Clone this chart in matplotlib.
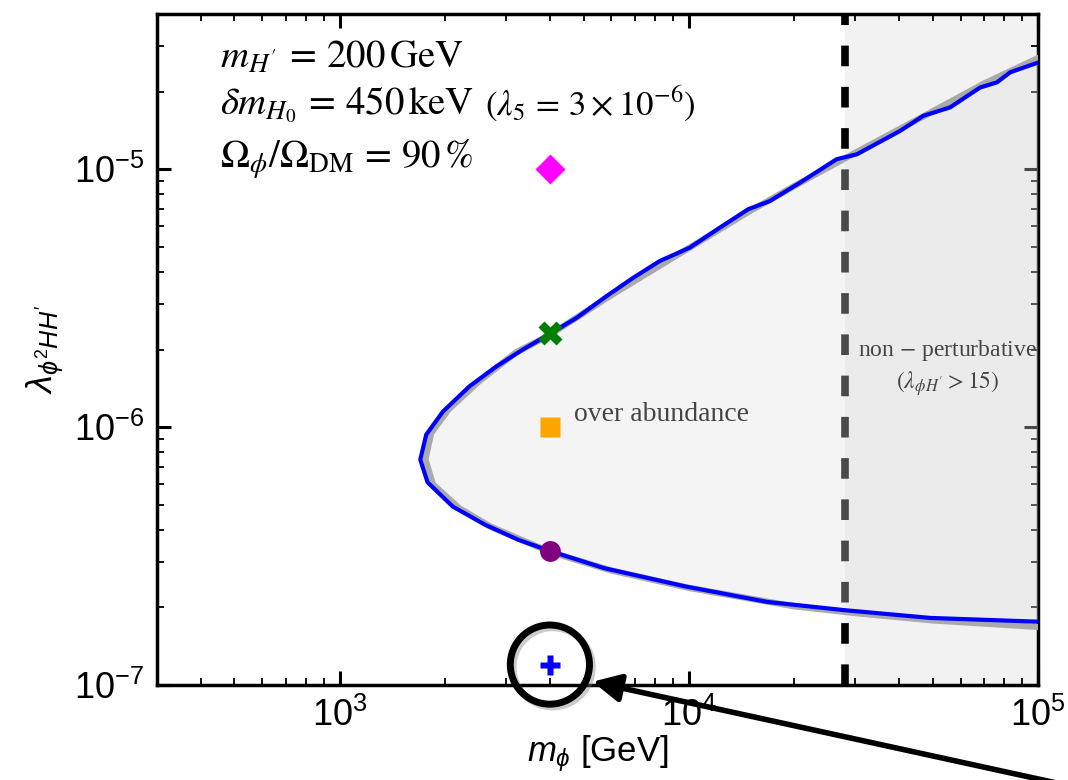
import matplotlib
matplotlib.use("Agg")
import matplotlib.pyplot as plt
import matplotlib.patheffects as pe

# relic-density contour (blue)
upper_m = [1702, 1770, 1977, 2355, 2812, 3350, 4000, 4764, 5808, 6918, 8260, 10070,
           12270, 14790, 17060, 20800, 26490, 30270, 40270, 46880, 55980, 68230,
           76210, 83180, 100000]
upper_lam = [7.48e-7, 9.35e-7, 1.15e-6, 1.44e-6, 1.72e-6, 2.0e-6, 2.30e-6, 2.65e-6,
             3.22e-6, 3.79e-6, 4.41e-6, 4.97e-6, 5.94e-6, 7.00e-6, 7.53e-6, 8.87e-6,
             1.094e-5, 1.143e-5, 1.409e-5, 1.611e-5, 1.738e-5, 2.075e-5, 2.173e-5,
             2.377e-5, 2.594e-5]
lower_m = [1702, 1786, 2109, 2612, 3243, 4000, 5715, 9795, 16750, 27990, 49200, 100000]
lower_lam = [7.48e-7, 6.11e-7, 4.92e-7, 4.18e-7, 3.66e-7, 3.31e-7, 2.84e-7, 2.41e-7,
             2.10e-7, 1.95e-7, 1.82e-7, 1.76e-7]

# smoother gray contour underneath
gray_m = [100000, 70000, 50000, 30000, 20000, 15000, 10000, 6000, 4000, 3200, 2500,
          2050, 1830, 1760, 1850, 2200, 2700, 4000, 6000, 10000, 20000, 30000, 50000,
          100000]
gray_lam = [2.70e-5, 2.15e-5, 1.68e-5, 1.16e-5, 8.6e-6, 6.9e-6, 4.95e-6, 3.25e-6,
            2.28e-6, 1.95e-6, 1.5e-6, 1.17e-6, 9.5e-7, 7.5e-7, 6.0e-7, 4.85e-7,
            4.12e-7, 3.28e-7, 2.78e-7, 2.38e-7, 2.02e-7, 1.9e-7, 1.78e-7, 1.68e-7]

m_pert = 2.8e4  # non-perturbative bound

# benchmark points
bench_m = 4000
bench_lam = {"D": 1e-5, "X": 2.31e-6, "s": 1e-6, "o": 3.3e-7, "P": 1.2e-7}
bench_col = {"D": "magenta", "X": "green", "s": "orange", "o": "purple", "P": "blue"}
bench_ms = {"D": 15, "X": 17, "s": 15, "o": 15, "P": 14}

plt.rcParams["font.family"] = ["Liberation Sans", "DejaVu Sans"]
plt.rcParams["mathtext.fontset"] = "custom"
plt.rcParams["mathtext.rm"] = "Liberation Sans"
plt.rcParams["mathtext.it"] = "Liberation Sans:italic"

fig = plt.figure(figsize=(10.68, 7.8), dpi=100)
ax = fig.add_axes([0.147, 0.1218, 0.825, 0.8602])
ax.set_xscale("log")
ax.set_yscale("log")
ax.set_xlim(300, 1e5)
ax.set_ylim(1e-7, 4e-5)

ax.axvspan(m_pert, 1e5, color="gray", alpha=0.1, lw=0, zorder=1)
ax.axvline(m_pert, color="black", lw=5.5, dashes=(2.7, 2.7), zorder=2)

curve_m = upper_m[::-1] + lower_m[1:]
curve_lam = upper_lam[::-1] + lower_lam[1:]
ax.fill(curve_m, curve_lam, facecolor=(222 / 255, 222 / 255, 222 / 255), alpha=0.33,
        lw=0, zorder=3)
ax.plot(gray_m, gray_lam, color="#aaaaaa", lw=4.5, zorder=4)
ax.plot(curve_m, curve_lam, color="blue", lw=3, zorder=5)

for mk, lam in bench_lam.items():
    ax.plot(bench_m, lam, marker=mk, ms=bench_ms[mk], color=bench_col[mk], mec="none",
            ls="none", zorder=6, clip_on=False)

ax.plot(bench_m, 1.2e-7, marker="o", ms=57, mfc="none", mec="black", mew=5, ls="none",
        zorder=7, clip_on=False,
        path_effects=[pe.SimpleLineShadow(offset=(2, -2), shadow_color="gray", alpha=0.4),
                      pe.Normal()])

ax.annotate("", xy=(5300, 1.03e-7), xycoords="data", xytext=(1.02, -0.013),
            textcoords="figure fraction", annotation_clip=False,
            arrowprops=dict(arrowstyle="-|>", lw=4, color="black", mutation_scale=42,
                            shrinkA=0, shrinkB=0), zorder=8)

serif = dict(family=["Liberation Serif", "DejaVu Serif"], math_fontfamily="stix")
ax.text(0.0715, 0.92, r"$m_{H'}\,=\,200\,\mathrm{GeV}$", transform=ax.transAxes,
        fontsize=28, va="baseline", **serif)
t2 = ax.text(0.0715, 0.85, r"$\delta m_{H_0}\,=\,450\,\mathrm{keV}$", transform=ax.transAxes,
             fontsize=28, va="baseline", **serif)
ax.annotate(r"$(\lambda_5\,=\,3\times10^{-6})$", xy=(1, 0.85), xycoords=(t2, "axes fraction"),
            xytext=(8, 0), textcoords="offset points", fontsize=25, va="baseline", **serif)
ax.text(0.0715, 0.77, r"$\Omega_\phi/\Omega_{\rm DM}\,=\,90\,\%$", transform=ax.transAxes,
        fontsize=28, va="baseline", **serif)

ax.text(4700, 1.0e-6, "over abundance", fontsize=20, color="#444444", va="bottom", **serif)
ax.text(5.5e4, 1.7e-6, "non $-$ perturbative\n" + r"$(\lambda_{\phi H'} > 15)$",
        fontsize=17, color="#444444", ha="center", va="center", linespacing=1.3, **serif)

ax.set_xlabel(r"$m_\phi$ [GeV]", fontsize=25, labelpad=0)
ax.set_ylabel(r"$\lambda_{\phi^2 HH'}$", fontsize=26, labelpad=6)

ax.tick_params(which="both", direction="in", top=True, right=True, labelsize=26)
ax.tick_params(which="major", length=10, width=2.2, pad=9)
ax.tick_params(which="minor", length=5, width=1.3)
for s in ax.spines.values():
    s.set_linewidth(2.5)

fig.savefig("out.png", dpi=100)
